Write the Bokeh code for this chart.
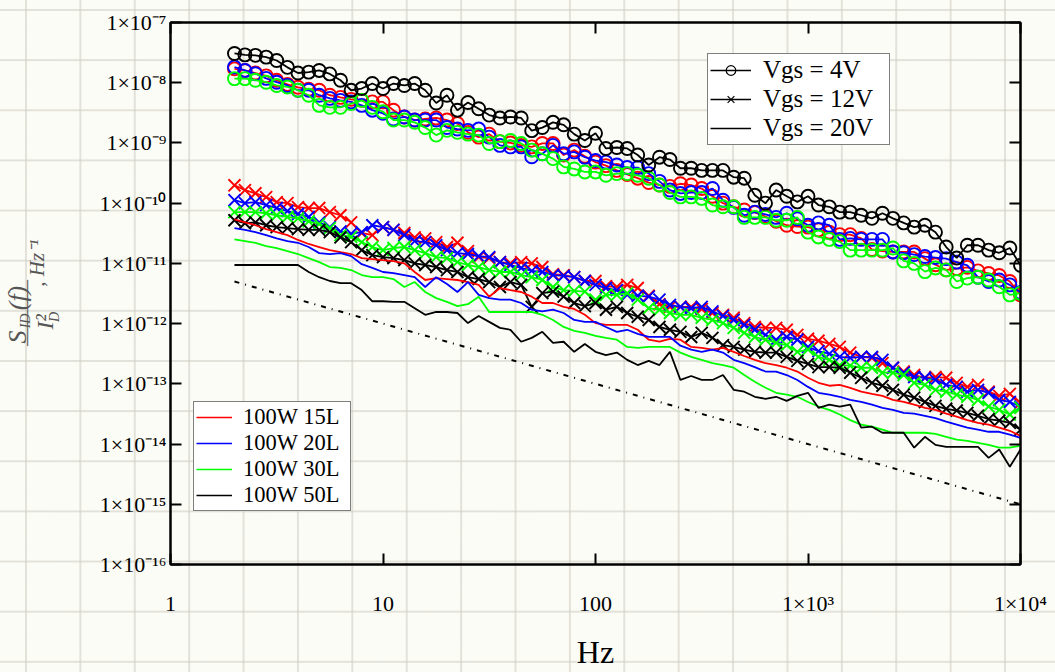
import numpy as np
from bokeh.plotting import figure
from bokeh.models import LogAxis, FixedTicker, Legend, LegendItem, Range1d
from bokeh.embed import file_html
from bokeh.resources import INLINE

# ---------------- data ----------------
freq = [2.0, 2.24, 2.51, 2.82, 3.16, 3.55, 3.98, 4.47, 5.01, 5.62, 6.31, 7.08, 7.94, 8.91,
        10.0, 11.2, 12.6, 14.1, 15.8, 17.8, 20.0, 22.4, 25.1, 28.2, 31.6, 35.5, 39.8, 44.7, 50.1, 56.2,
        63.1, 70.8, 79.4, 89.1,
        100.0, 112.0, 126.0, 141.0, 158.0, 178.0, 200.0, 224.0, 251.0, 282.0, 316.0, 355.0, 398.0, 447.0,
        501.0, 562.0, 631.0, 708.0, 794.0, 891.0,
        1000.0, 1120.0, 1260.0, 1410.0, 1580.0, 1780.0, 2000.0, 2240.0, 2510.0, 2820.0, 3160.0, 3550.0,
        3980.0, 4470.0, 5010.0, 5620.0, 6310.0, 7080.0, 7940.0, 8910.0, 10000.0]

# Vgs = 4V (circle markers)
red_4V = [1.7e-8, 1.6e-8, 1.45e-8, 1.3e-8, 1.1e-8, 9.4e-9, 8.4e-9, 7.8e-9, 7.5e-9, 6.2e-9,
          5.7e-9, 5.3e-9, 5.1e-9, 4.8e-9, 4.8e-9, 3.5e-9, 2.7e-9, 2.4e-9, 2.5e-9, 2.6e-9,
          2.4e-9, 2.1e-9, 1.5e-9, 1.25e-9, 1.4e-9, 1.05e-9, 1.0e-9, 9.1e-10, 8.6e-10, 9.8e-10,
          9.8e-10, 6.3e-10, 7.6e-10, 6.0e-10, 4.8e-10, 4.2e-10, 3.5e-10, 3.0e-10, 2.6e-10, 2.2e-10,
          2.0e-10, 1.9e-10, 2.1e-10, 2.0e-10, 1.75e-10, 1.3e-10, 1.0e-10, 8.7e-11, 7.7e-11, 7.0e-11,
          6.0e-11, 5.0e-11, 4.3e-11, 4.1e-11, 4.0e-11, 3.6e-11, 3.3e-11, 3.0e-11, 3.0e-11, 2.6e-11,
          1.7e-11, 1.6e-11, 1.55e-11, 1.55e-11, 1.55e-11, 1.2e-11, 9.5e-12, 7.8e-12, 8.2e-12, 8.6e-12,
          7.5e-12, 6.8e-12, 6.3e-12, 5.0e-12, 3.0e-12]
blue_4V = [1.82e-8, 1.6e-8, 1.41e-8, 1.18e-8, 1.02e-8, 9.0e-9, 7.5e-9, 7.5e-9, 6.2e-9, 5.5e-9,
           5.1e-9, 4.8e-9, 4.2e-9, 3.5e-9, 3.1e-9, 2.5e-9, 2.7e-9, 2.4e-9, 2.4e-9, 2.4e-9,
           1.8e-9, 1.7e-9, 1.62e-9, 1.7e-9, 1.25e-9, 9.1e-10, 8.6e-10, 8.6e-10, 5.9e-10, 6.6e-10,
           9.1e-10, 6.6e-10, 7.1e-10, 5.8e-10, 5.1e-10, 4.8e-10, 4.3e-10, 3.9e-10, 3.9e-10, 3.1e-10,
           2.3e-10, 1.65e-10, 1.45e-10, 1.5e-10, 1.5e-10, 1.75e-10, 1.12e-10, 8.5e-11, 6.3e-11, 7.1e-11,
           6.5e-11, 5.8e-11, 6.8e-11, 5.5e-11, 4.3e-11, 4.7e-11, 4.3e-11, 2.5e-11, 2.6e-11, 2.5e-11,
           2.5e-11, 2.5e-11, 1.55e-11, 1.5e-11, 1.4e-11, 1.3e-11, 1.25e-11, 1.2e-11, 1.05e-11, 9.3e-12,
           5.9e-12, 5.0e-12, 5.3e-12, 4.4e-12, 3.3e-12]
green_4V = [1.17e-8, 1.17e-8, 1.1e-8, 1.02e-8, 9.0e-9, 8.5e-9, 7.5e-9, 6.2e-9, 4.2e-9, 3.9e-9,
            3.9e-9, 4.5e-9, 5.1e-9, 3.9e-9, 3.3e-9, 2.4e-9, 2.4e-9, 2.2e-9, 1.8e-9, 1.35e-9,
            1.62e-9, 1.5e-9, 1.4e-9, 1.35e-9, 9.8e-10, 1.05e-9, 1.1e-9, 9.8e-10, 7.6e-10, 6.6e-10,
            5.5e-10, 4.0e-10, 3.7e-10, 3.3e-10, 3.3e-10, 2.9e-10, 3.1e-10, 3.1e-10, 2.9e-10, 2.6e-10,
            2.0e-10, 1.5e-10, 1.27e-10, 1.27e-10, 1.2e-10, 9.3e-11, 8.7e-11, 8.7e-11, 5.8e-11, 5.8e-11,
            5.8e-11, 5.2e-11, 5.2e-11, 5.8e-11, 3.3e-11, 2.75e-11, 2.5e-11, 2.3e-11, 1.66e-11, 1.66e-11,
            1.66e-11, 1.66e-11, 1.8e-11, 1.1e-11, 1.0e-11, 7.3e-12, 8.4e-12, 7.8e-12, 5.0e-12, 5.7e-12,
            5.9e-12, 5.3e-12, 4.1e-12, 3.0e-12, 3.2e-12]
black_4V = [3.06e-8, 2.9e-8, 2.85e-8, 2.66e-8, 2.34e-8, 1.8e-8, 1.45e-8, 1.5e-8, 1.6e-8, 1.4e-8,
            1.1e-8, 7.5e-9, 8.0e-9, 9.7e-9, 8.0e-9, 9.7e-9, 9.0e-9, 9.7e-9, 7.5e-9, 4.6e-9,
            6.2e-9, 3.5e-9, 4.7e-9, 3.7e-9, 2.9e-9, 2.6e-9, 2.7e-9, 2.6e-9, 1.6e-9, 1.8e-9,
            2.2e-9, 2.0e-9, 1.4e-9, 1.1e-9, 1.45e-9, 8.1e-10, 8.4e-10, 8.1e-10, 6.3e-10, 4.3e-10,
            5.8e-10, 5.3e-10, 3.8e-10, 3.8e-10, 3.5e-10, 3.5e-10, 3.5e-10, 2.7e-10, 2.6e-10, 1.35e-10,
            1.0e-10, 1.65e-10, 1.3e-10, 1.05e-10, 1.3e-10, 9.3e-11, 8.7e-11, 7.1e-11, 7.1e-11, 6.3e-11,
            5.6e-11, 6.8e-11, 5.6e-11, 4.7e-11, 4.0e-11, 4.3e-11, 3.3e-11, 1.87e-11, 1.23e-11, 2.0e-11,
            2.0e-11, 1.66e-11, 1.5e-11, 1.8e-11, 9.3e-12]

# Vgs = 12V (x markers)
red_12V = [1.98e-10, 1.65e-10, 1.46e-10, 1.26e-10, 1.04e-10, 1.0e-10, 8.6e-11, 8.3e-11, 8.3e-11, 7.1e-11,
           6.3e-11, 4.8e-11, 3.2e-11, 2.95e-11, 4.0e-11, 3.6e-11, 3.2e-11, 2.7e-11, 2.6e-11, 2.25e-11,
           1.87e-11, 2.2e-11, 1.6e-11, 1.27e-11, 1.22e-11, 1.05e-11, 1.0e-11, 1.05e-11, 1.0e-11, 8.7e-12,
           6.6e-12, 6.4e-12, 5.9e-12, 5.1e-12, 5.1e-12, 4.2e-12, 4.05e-12, 4.4e-12, 3.9e-12, 2.9e-12,
           2.1e-12, 1.9e-12, 1.9e-12, 1.9e-12, 1.75e-12, 1.5e-12, 1.4e-12, 1.25e-12, 1.02e-12, 8.8e-13,
           8.5e-13, 8.5e-13, 7.9e-13, 6.5e-13, 5.6e-13, 5.2e-13, 4.6e-13, 4.1e-13, 3.3e-13, 2.8e-13,
           2.7e-13, 2.2e-13, 1.85e-13, 1.6e-13, 1.4e-13, 1.26e-13, 1.3e-13, 1.26e-13, 1.04e-13, 8.9e-14,
           9.6e-14, 7.4e-14, 6.3e-14, 6.8e-14, 4.8e-14]
blue_12V = [1.12e-10, 1.0e-10, 1.04e-10, 9.3e-11, 8.3e-11, 7.4e-11, 6.6e-11, 5.9e-11, 4.8e-11, 4.0e-11,
            3.4e-11, 3.1e-11, 3.3e-11, 4.3e-11, 4.0e-11, 3.6e-11, 2.95e-11, 2.35e-11, 2.25e-11, 2.0e-11,
            1.66e-11, 1.48e-11, 1.43e-11, 1.32e-11, 1.27e-11, 1.05e-11, 9.4e-12, 8.4e-12, 7.5e-12, 7.2e-12,
            6.4e-12, 6.2e-12, 5.9e-12, 5.1e-12, 4.4e-12, 3.9e-12, 3.6e-12, 3.0e-12, 2.9e-12, 2.8e-12,
            2.5e-12, 2.05e-12, 1.9e-12, 1.8e-12, 1.9e-12, 1.6e-12, 1.34e-12, 1.15e-12, 9.5e-13, 7.9e-13,
            6.5e-13, 5.4e-13, 6.0e-13, 5.4e-13, 4.1e-13, 3.5e-13, 3.15e-13, 2.8e-13, 2.7e-13, 2.8e-13,
            2.8e-13, 2.5e-13, 1.85e-13, 1.53e-13, 1.3e-13, 1.26e-13, 1.16e-13, 9.6e-14, 8.9e-14, 7.4e-14,
            7.95e-14, 7.1e-14, 5.4e-14, 5.0e-14, 4.2e-14]
green_12V = [7.1e-11, 7.1e-11, 7.1e-11, 6.8e-11, 6.3e-11, 5.9e-11, 5.6e-11, 5.0e-11, 4.5e-11, 3.85e-11,
             2.95e-11, 2.75e-11, 2.25e-11, 1.87e-11, 1.66e-11, 1.8e-11, 1.87e-11, 1.66e-11, 1.48e-11, 1.27e-11,
             1.22e-11, 1.05e-11, 9.4e-12, 8.7e-12, 7.75e-12, 7.2e-12, 7.2e-12, 6.4e-12, 5.9e-12, 5.3e-12,
             4.05e-12, 3.6e-12, 3.5e-12, 3.4e-12, 2.5e-12, 3.0e-12, 3.0e-12, 3.2e-12, 2.5e-12, 1.8e-12,
             1.7e-12, 1.5e-12, 1.4e-12, 1.4e-12, 1.25e-12, 1.15e-12, 1.02e-12, 8.5e-13, 7.0e-13, 6.0e-13,
             5.4e-13, 4.8e-13, 4.4e-13, 3.4e-13, 3.7e-13, 2.8e-13, 2.5e-13, 2.05e-13, 2.0e-13, 1.85e-13,
             1.85e-13, 1.53e-13, 1.53e-13, 1.4e-13, 1.04e-13, 9.6e-14, 7.95e-14, 7.4e-14, 6.6e-14, 6.1e-14,
             5.4e-14, 4.2e-14, 3.7e-14, 3.1e-14, 4.0e-14]
black_12V = [5.2e-11, 4.65e-11, 4.8e-11, 4.3e-11, 4.0e-11, 3.85e-11, 3.7e-11, 3.6e-11, 3.6e-11, 3.3e-11,
             2.7e-11, 2.25e-11, 1.66e-11, 1.37e-11, 1.27e-11, 1.22e-11, 1.13e-11, 1.0e-11, 9.4e-12, 8.7e-12,
             7.75e-12, 7.2e-12, 5.9e-12, 5.5e-12, 4.9e-12, 4.05e-12, 4.9e-12, 4.4e-12, 1.9e-12, 3.2e-12,
             3.4e-12, 2.8e-12, 2.2e-12, 1.95e-12, 2.2e-12, 1.7e-12, 1.9e-12, 1.5e-12, 1.3e-12, 1.15e-12,
             8.8e-13, 7.9e-13, 7.3e-13, 6.0e-13, 7.0e-13, 5.8e-13, 4.4e-13, 4.1e-13, 3.7e-13, 3.4e-13,
             3.3e-13, 3.3e-13, 2.8e-13, 2.4e-13, 2.15e-13, 1.9e-13, 1.9e-13, 1.85e-13, 1.53e-13, 1.26e-13,
             1.04e-13, 9.3e-14, 7.95e-14, 6.6e-14, 5.9e-14, 5.0e-14, 4.3e-14, 3.85e-14, 3.6e-14, 3.3e-14,
             2.95e-14, 2.6e-14, 2.45e-14, 2.25e-14, 1.73e-14]

# Vgs = 20V (plain lines)
red_20V = [5.4e-11, 4.8e-11, 4.3e-11, 3.7e-11, 3.3e-11, 2.95e-11, 2.45e-11, 2.1e-11, 1.87e-11, 1.66e-11,
           1.54e-11, 1.43e-11, 1.22e-11, 1.18e-11, 1.13e-11, 1.09e-11, 1.0e-11, 7.2e-12, 5.3e-12, 5.7e-12,
           5.5e-12, 5.3e-12, 4.9e-12, 4.4e-12, 2.8e-12, 3.9e-12, 3.6e-12, 3.35e-12, 2.8e-12, 2.2e-12,
           2.2e-12, 1.9e-12, 1.75e-12, 1.4e-12, 1.02e-12, 9.5e-13, 9.5e-13, 9.5e-13, 7.9e-13, 5.4e-13,
           5.0e-13, 5.6e-13, 5.4e-13, 4.1e-13, 3.95e-13, 3.7e-13, 3.95e-13, 3.4e-13, 2.9e-13, 2.5e-13,
           2.2e-13, 2.05e-13, 1.85e-13, 1.6e-13, 1.26e-13, 1.04e-13, 9.3e-14, 9.6e-14, 8.6e-14, 7.4e-14,
           6.8e-14, 6.3e-14, 5.4e-14, 5.0e-14, 4.5e-14, 4.0e-14, 3.7e-14, 3.2e-14, 2.85e-14, 2.5e-14,
           2.25e-14, 2.1e-14, 1.87e-14, 1.66e-14, 1.37e-14]
blue_20V = [3.85e-11, 3.6e-11, 3.3e-11, 2.95e-11, 2.6e-11, 2.35e-11, 2.2e-11, 1.87e-11, 1.48e-11, 1.43e-11,
            1.48e-11, 1.32e-11, 9.7e-12, 8.4e-12, 7.2e-12, 6.9e-12, 6.4e-12, 5.9e-12, 4.05e-12, 5.9e-12,
            4.55e-12, 3.35e-12, 4.9e-12, 3.0e-12, 2.65e-12, 2.5e-12, 2.5e-12, 2.2e-12, 1.7e-12, 1.6e-12,
            1.7e-12, 1.5e-12, 1.15e-12, 1.07e-12, 1.07e-12, 8.8e-13, 7.3e-13, 7.9e-13, 6.75e-13, 6.0e-13,
            6.0e-13, 6.0e-13, 4.3e-13, 3.7e-13, 3.4e-13, 3.7e-13, 3.3e-13, 2.5e-13, 2.2e-13, 1.9e-13,
            1.6e-13, 1.6e-13, 1.4e-13, 1.16e-13, 8.9e-14, 7.1e-14, 6.6e-14, 6.1e-14, 5.4e-14, 5.0e-14,
            4.5e-14, 4.0e-14, 3.7e-14, 3.3e-14, 3.2e-14, 2.95e-14, 2.7e-14, 2.35e-14, 2.1e-14, 1.87e-14,
            1.73e-14, 1.6e-14, 1.6e-14, 1.43e-14, 1.27e-14]
green_20V = [2.5e-11, 2.35e-11, 2.2e-11, 1.94e-11, 1.8e-11, 1.6e-11, 1.43e-11, 1.22e-11, 1.05e-11, 8.7e-12,
             8.4e-12, 7.75e-12, 6.4e-12, 5.9e-12, 5.9e-12, 5.5e-12, 4.05e-12, 4.9e-12, 3.35e-12, 2.65e-12,
             2.3e-12, 1.95e-12, 2.1e-12, 2.8e-12, 1.56e-12, 1.56e-12, 1.56e-12, 1.56e-12, 1.56e-12, 1.4e-12,
             1.15e-12, 8.8e-13, 7.6e-13, 7.0e-13, 6.25e-13, 5.8e-13, 5.4e-13, 4.1e-13, 3.95e-13, 4.1e-13,
             4.1e-13, 4.1e-13, 3.3e-13, 2.8e-13, 2.5e-13, 2.2e-13, 2.05e-13, 1.85e-13, 1.4e-13, 1.08e-13,
             8.6e-14, 7.1e-14, 6.6e-14, 6.1e-14, 5.0e-14, 4.2e-14, 3.7e-14, 3.1e-14, 2.5e-14, 2.1e-14,
             1.94e-14, 1.73e-14, 1.54e-14, 1.54e-14, 1.54e-14, 1.54e-14, 1.48e-14, 1.32e-14, 1.18e-14, 1.13e-14,
             1.05e-14, 9.7e-15, 8.7e-15, 8.7e-15, 9.4e-15]
black_20V = [9.4e-12, 9.4e-12, 9.4e-12, 9.4e-12, 9.4e-12, 9.4e-12, 9.4e-12, 7.2e-12, 5.9e-12, 5.1e-12,
             4.7e-12, 4.7e-12, 3.6e-12, 2.35e-12, 2.35e-12, 2.3e-12, 2.3e-12, 1.8e-12, 1.4e-12, 1.56e-12,
             1.56e-12, 1.5e-12, 1.02e-12, 1.34e-12, 1.07e-12, 8.5e-13, 7.9e-13, 5.0e-13, 5.8e-13, 7.3e-13,
             4.8e-13, 5.0e-13, 3.4e-13, 4.6e-13, 3.4e-13, 3.0e-13, 3.3e-13, 2.5e-13, 2.05e-13, 2.4e-13,
             2.05e-13, 3.4e-13, 1.16e-13, 1.35e-13, 1.16e-13, 1.16e-13, 1.4e-13, 7.95e-14, 7.4e-14, 6.1e-14,
             5.65e-14, 6.1e-14, 5.2e-14, 6.3e-14, 7.1e-14, 4.0e-14, 4.5e-14, 4.2e-14, 4.5e-14, 1.87e-14,
             1.94e-14, 1.54e-14, 1.54e-14, 1.54e-14, 8.7e-15, 1.32e-14, 9.7e-15, 9.0e-15, 9.0e-15, 9.0e-15,
             9.0e-15, 5.9e-15, 8.1e-15, 4.2e-15, 8.1e-15]

# 1/f reference line (end points)
ref_f = [2.0, 10000.0]
ref_s = [5.0e-12, 1.0e-15]

devices = ["100W 15L", "100W 20L", "100W 30L", "100W 50L"]
dev_colors = ["#ff0000", "#0000ff", "#00ff00", "#000000"]
vgs_labels = ["Vgs = 4V", "Vgs = 12V", "Vgs = 20V"]

x_ticks = [1.0, 10.0, 100.0, 1000.0, 10000.0]
x_tick_labels = ["1", "10", "100", "1×10³", "1×10⁴"]
y_ticks = [1e-16, 1e-15, 1e-14, 1e-13, 1e-12, 1e-11, 1e-10, 1e-9, 1e-8, 1e-7]
y_tick_labels = ["1×10⁻¹⁶", "1×10⁻¹⁵", "1×10⁻¹⁴", "1×10⁻¹³", "1×10⁻¹²",
                 "1×10⁻¹¹", "1×10⁻¹⁰", "1×10⁻⁹", "1×10⁻⁸", "1×10⁻⁷"]

# ---------------- figure ----------------
SERIF = "Liberation Serif"
GREY = "#555555"
p = figure(width=1055, height=672, x_axis_type="log", y_axis_type="log",
           x_range=Range1d(1, 1e4), y_range=Range1d(1e-16, 1e-7),
           output_backend="svg", toolbar_location=None,
           min_border_left=170, min_border_right=35, min_border_top=22, min_border_bottom=107)
p.styles = {
    "background-color": "#fcfcf6",
    "background-image": ("linear-gradient(to right, rgba(205,205,195,0.55) 2px, transparent 2px), "
                         "linear-gradient(to bottom, rgba(205,205,195,0.55) 2px, transparent 2px)"),
    "background-size": "54.4px 50.15px",
    "background-position": "25px 9px",
}
p.border_fill_alpha = 0
p.background_fill_alpha = 0
p.outline_line_color = "black"
p.outline_line_width = 2
p.xgrid.visible = False
p.ygrid.visible = False

xax = p.below[0]
yax = p.left[0]


def style_axis(ax, ticks):
    ax.ticker = FixedTicker(ticks=ticks)
    ax.major_tick_in = 11
    ax.major_tick_out = 0
    ax.minor_tick_in = 0
    ax.minor_tick_out = 0
    ax.major_tick_line_width = 2
    ax.major_tick_line_color = "black"
    ax.axis_line_width = 2
    ax.axis_line_color = "black"
    ax.major_label_text_font = SERIF
    ax.major_label_text_font_size = "22px"
    ax.major_label_text_color = "black"


style_axis(xax, x_ticks)
style_axis(yax, y_ticks)
xax.major_label_overrides = dict(zip(x_ticks, x_tick_labels))
yax.major_label_overrides = dict(zip(y_ticks, y_tick_labels))
xax.major_label_standoff = 26
yax.major_label_standoff = 4
xax.axis_label = "Hz"
xax.axis_label_text_font = SERIF
xax.axis_label_text_font_style = "normal"
xax.axis_label_text_font_size = "32px"
xax.axis_label_text_color = "black"
xax.axis_label_standoff = 15

ra = LogAxis()
style_axis(ra, y_ticks)
ra.major_label_overrides = {t: "" for t in y_ticks}
ra.major_label_text_font_size = "1px"
ra.major_label_standoff = 0
p.add_layout(ra, "right")
ta = LogAxis()
style_axis(ta, x_ticks)
ta.major_label_overrides = {t: "" for t in x_ticks}
ta.major_label_text_font_size = "1px"
ta.major_label_standoff = 0
p.add_layout(ta, "above")

# ---------------- series ----------------
s4 = [red_4V, blue_4V, green_4V, black_4V]
s12 = [red_12V, blue_12V, green_12V, black_12V]
s20 = [red_20V, blue_20V, green_20V, black_20V]

for ys, c in zip(s4, dev_colors):
    p.line(freq, ys, line_color=c, line_width=1.8)
    p.scatter(freq, ys, marker="circle", size=13, fill_color=None, line_color=c, line_width=1.9)
for ys, c in zip(s12, dev_colors):
    p.line(freq, ys, line_color=c, line_width=1.8)
    p.scatter(freq, ys, marker="x", size=17, line_color=c, line_width=1.9)
for ys, c in zip(s20, dev_colors):
    p.line(freq, ys, line_color=c, line_width=1.8)

p.line(ref_f, ref_s, line_color="black", line_width=2, line_dash="5 6 1 6")

# ---------------- legends ----------------
nan = [float("nan")]
la1 = p.line(nan, nan, line_color="black", line_width=1.3)
ma1 = p.scatter(nan, nan, marker="circle", size=7, fill_color=None, line_color="black", line_width=1.2)
la2 = p.line(nan, nan, line_color="black", line_width=1.3)
ma2 = p.scatter(nan, nan, marker="x", size=8, line_color="black", line_width=1.2)
la3 = p.line(nan, nan, line_color="black", line_width=1.3)

legA = Legend(items=[LegendItem(label=vgs_labels[0], renderers=[la1, ma1]),
                     LegendItem(label=vgs_labels[1], renderers=[la2, ma2]),
                     LegendItem(label=vgs_labels[2], renderers=[la3])],
              location=(537, 419), margin=0, padding=2, spacing=1,
              glyph_width=41, glyph_height=24, label_height=24, label_width=124, label_standoff=12,
              label_text_font=SERIF, label_text_font_size="25px", label_text_color="black",
              border_line_color="black", border_line_width=1.5,
              background_fill_color="white", background_fill_alpha=1)
p.add_layout(legA)

dev_r = [p.line(nan, nan, line_color=c, line_width=1.5) for c in dev_colors]
legB = Legend(items=[LegendItem(label=d, renderers=[r]) for d, r in zip(devices, dev_r)],
              location=(23, 53), margin=0, padding=2, spacing=0,
              glyph_width=36, glyph_height=22, label_height=22, label_width=105, label_standoff=11,
              label_text_font=SERIF, label_text_font_size="22.5px", label_text_color="black",
              border_line_color="black", border_line_width=1.5,
              background_fill_color="white", background_fill_alpha=1)
p.add_layout(legB)


# ---------------- y axis label (fraction, rotated) ----------------
# Each piece is the (vertical) tick label of an otherwise invisible axis stacked
# on the left; the standoff places the text baseline at the wanted column.
def dy(py):
    return 10 ** (-7 - (py - 22) / 60.333)


EXT = 1.28           # measured panel extent / font size for vertical labels
panel_edge = 101.0   # left edge of the tick-label panel (page px)

ylabel_pieces = [
    # ([(text, centre y px)], baseline x px, font px, style)  ordered outward
    ([("D", 317)], 67, 14, "italic"),
    ([("I²", 322)], 63, 24, "italic"),
    ([(", Hz⁻¹", 263)], 52, 21, "italic"),
    ([("ID", 321)], 36, 14, "italic"),
    ([("———", 313)], 42, 22, "normal"),
    ([("S", 337), ("(f)", 298)], 35, 26, "italic"),
]
for items, base, fs, st in ylabel_pieces:
    ticks = [dy(cy) for _, cy in items]
    standoff = int(round(panel_edge - base))
    ax = LogAxis(ticker=FixedTicker(ticks=ticks))
    ax.major_label_overrides = {t: txt for t, (txt, _) in zip(ticks, items)}
    ax.major_label_orientation = "vertical"
    ax.major_label_standoff = standoff
    ax.major_tick_in = 0
    ax.major_tick_out = 0
    ax.minor_tick_in = 0
    ax.minor_tick_out = 0
    ax.axis_line_color = None
    ax.major_tick_line_color = None
    ax.minor_tick_line_color = None
    ax.major_label_text_font = SERIF
    ax.major_label_text_font_size = f"{fs}px"
    ax.major_label_text_font_style = st
    ax.major_label_text_color = GREY
    p.add_layout(ax, "left")
    panel_edge = panel_edge - standoff - EXT * fs

open("out.html", "w").write(file_html(p, INLINE))
